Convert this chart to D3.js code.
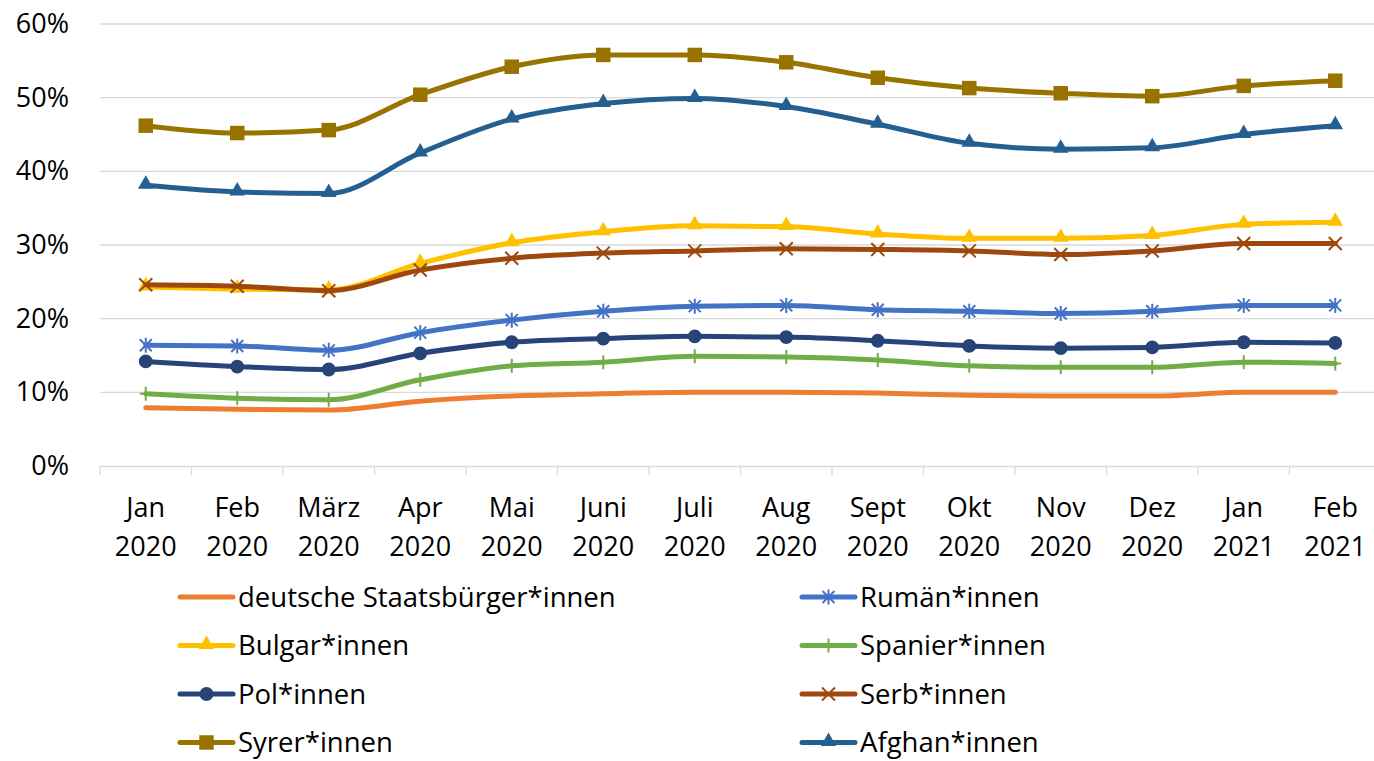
<!DOCTYPE html>
<html>
<head>
<meta charset="utf-8">
<script src="https://cdn.jsdelivr.net/npm/d3@7"></script>
<style>
  body { margin: 0; background: #fff; }
  svg { display: block; font-family: "Open Sans", sans-serif; }
</style>
</head>
<body>
<svg id="chart"></svg>
<script>
// Monate (Kategorien)
const monate = ["Jan 2020", "Feb 2020", "März 2020", "Apr 2020", "Mai 2020", "Juni 2020", "Juli 2020",
  "Aug 2020", "Sept 2020", "Okt 2020", "Nov 2020", "Dez 2020", "Jan 2021", "Feb 2021"];

// Werte in Prozent
const deutsche = [7.9, 7.7, 7.6, 8.8, 9.5, 9.8, 10.0, 10.0, 9.9, 9.6, 9.5, 9.5, 10.0, 10.0];
const rumaen   = [16.4, 16.3, 15.7, 18.1, 19.8, 21.0, 21.7, 21.8, 21.2, 21.0, 20.7, 21.0, 21.8, 21.8];
const bulgar   = [24.3, 24.0, 23.9, 27.5, 30.3, 31.8, 32.6, 32.5, 31.5, 30.9, 30.9, 31.3, 32.8, 33.1];
const spanier  = [9.8, 9.2, 9.0, 11.7, 13.6, 14.1, 14.9, 14.8, 14.4, 13.6, 13.4, 13.4, 14.1, 13.9];
const pol      = [14.2, 13.5, 13.1, 15.3, 16.8, 17.3, 17.6, 17.5, 17.0, 16.3, 16.0, 16.1, 16.8, 16.7];
const serb     = [24.6, 24.4, 23.8, 26.6, 28.2, 28.9, 29.2, 29.5, 29.4, 29.2, 28.7, 29.2, 30.2, 30.2];
const syrer    = [46.2, 45.2, 45.6, 50.4, 54.2, 55.8, 55.8, 54.8, 52.7, 51.3, 50.6, 50.2, 51.6, 52.3];
const afghan   = [38.1, 37.2, 37.0, 42.5, 47.1, 49.2, 49.9, 48.8, 46.4, 43.8, 43.0, 43.2, 45.0, 46.2];

const yTicks = [0, 10, 20, 30, 40, 50, 60];

const serien = [
  { name: "deutsche Staatsbürger*innen", werte: deutsche, farbe: "#ED7D31", marker: "none" },
  { name: "Rumän*innen", werte: rumaen, farbe: "#4472C4", marker: "asterisk" },
  { name: "Bulgar*innen", werte: bulgar, farbe: "#FFC000", marker: "triangle" },
  { name: "Spanier*innen", werte: spanier, farbe: "#70AD47", marker: "plus" },
  { name: "Pol*innen", werte: pol, farbe: "#264478", marker: "circle" },
  { name: "Serb*innen", werte: serb, farbe: "#9E480E", marker: "cross" },
  { name: "Syrer*innen", werte: syrer, farbe: "#997300", marker: "square" },
  { name: "Afghan*innen", werte: afghan, farbe: "#255E91", marker: "triangle" }
];

const breite = 1374, hoehe = 761;
const svg = d3.select("#chart").attr("width", breite).attr("height", hoehe);

const x = d3.scaleBand().domain(monate).range([100, 1381]);
const y = d3.scaleLinear().domain([0, 60]).range([466, 24]);
const xc = d => x(d) + x.bandwidth() / 2;

// Gitternetz
svg.append("g")
  .selectAll("line")
  .data(yTicks.filter(t => t > 0))
  .join("line")
  .attr("x1", 100).attr("x2", 1381)
  .attr("y1", d => y(d)).attr("y2", d => y(d))
  .attr("stroke", "#d9d9d9").attr("stroke-width", 1.3);

// Y-Achse
const yAchse = svg.append("g")
  .attr("transform", "translate(100,0)")
  .call(d3.axisLeft(y).tickValues(yTicks).tickSize(0).tickPadding(31).tickFormat(d => d + "%"));
yAchse.select(".domain").remove();
yAchse.selectAll("text").attr("font-size", 27).attr("fill", "#000").attr("font-family", "Open Sans");

// X-Achse
const xAchse = svg.append("g")
  .attr("transform", "translate(0,466)")
  .call(d3.axisBottom(x).tickSize(0).tickFormat(""));
xAchse.select(".domain").attr("stroke", "#d9d9d9").attr("stroke-width", 1.3);
xAchse.append("g")
  .selectAll("line")
  .data(d3.range(monate.length + 1))
  .join("line")
  .attr("x1", i => 100 + i * x.step()).attr("x2", i => 100 + i * x.step())
  .attr("y1", 0).attr("y2", 9)
  .attr("stroke", "#d9d9d9").attr("stroke-width", 1.3);

const labels = svg.append("g")
  .selectAll("text")
  .data(monate)
  .join("text")
  .attr("text-anchor", "middle")
  .attr("font-size", 27)
  .attr("fill", "#000");
labels.append("tspan").attr("x", xc).attr("y", 517).text(d => d.split(" ")[0]);
labels.append("tspan").attr("x", xc).attr("y", 556).text(d => d.split(" ")[1]);

// Marker
function zeichneMarker(g, art, farbe) {
  if (art === "square") {
    g.append("path").attr("d", d3.symbol(d3.symbolSquare, 210)()).attr("fill", farbe);
  } else if (art === "triangle") {
    g.append("path").attr("d", d3.symbol(d3.symbolTriangle, 105)()).attr("fill", farbe)
      .attr("transform", "translate(0,-1)");
  } else if (art === "circle") {
    g.append("path").attr("d", d3.symbol(d3.symbolCircle, 150)()).attr("fill", farbe);
  } else if (art === "cross") {
    g.append("path").attr("d", "M-6.5,-6.5L6.5,6.5M-6.5,6.5L6.5,-6.5")
      .attr("stroke", farbe).attr("stroke-width", 2).attr("fill", "none");
  } else if (art === "plus") {
    g.append("path").attr("d", "M0,-7L0,7M-6,0L6,0")
      .attr("stroke", farbe).attr("stroke-width", 2).attr("fill", "none");
  } else if (art === "asterisk") {
    g.append("path").attr("d", "M-6,-6L6,6M-6,6L6,-6M0,-7.5L0,7.5")
      .attr("stroke", farbe).attr("stroke-width", 2).attr("fill", "none");
  }
}

const linie = d3.line()
  .x((d, i) => xc(monate[i]))
  .y(d => y(d))
  .curve(d3.curveMonotoneX);

serien.forEach(s => {
  const g = svg.append("g");
  g.append("path")
    .attr("d", linie(s.werte))
    .attr("fill", "none")
    .attr("stroke", s.farbe)
    .attr("stroke-width", 5)
    .attr("stroke-linecap", "round")
    .attr("stroke-linejoin", "round");
  s.werte.forEach((v, i) => {
    const m = g.append("g").attr("transform", `translate(${xc(monate[i])},${y(v)})`);
    zeichneMarker(m, s.marker, s.farbe);
  });
});

// Legende
const legende = svg.append("g");
serien.forEach((s, i) => {
  const spalte = i % 2, zeile = Math.floor(i / 2);
  const lx = spalte === 0 ? 180 : 802;
  const ly = 597 + zeile * 48.5;
  const g = legende.append("g");
  g.append("line")
    .attr("x1", lx).attr("x2", lx + 53)
    .attr("y1", ly).attr("y2", ly)
    .attr("stroke", s.farbe).attr("stroke-width", 5).attr("stroke-linecap", "round");
  const m = g.append("g").attr("transform", `translate(${lx + 26.5},${ly})`);
  zeichneMarker(m, s.marker, s.farbe);
  g.append("text")
    .attr("x", lx + 58).attr("y", ly + 9.5)
    .attr("font-size", 27.5)
    .attr("fill", "#000")
    .text(s.name);
});
</script>
</body>
</html>
